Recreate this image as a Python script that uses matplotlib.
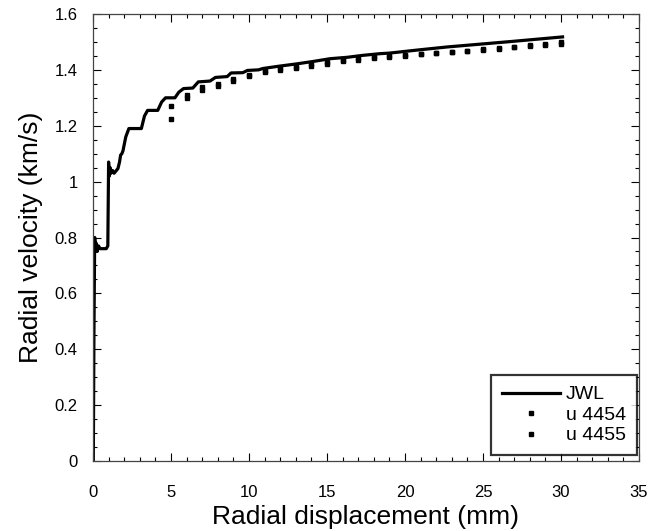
import numpy as np
import matplotlib
matplotlib.use("Agg")
import matplotlib.pyplot as plt
from matplotlib.ticker import MultipleLocator, FormatStrFormatter

plt.rcParams['font.family'] = ['Liberation Sans', 'DejaVu Sans']

# --- JWL simulation curve ---
jwl_x = [0.02, 0.06, 0.10, 0.11, 0.15, 0.20, 0.27, 0.35, 0.45, 0.85, 0.95,
         1.00, 1.05, 1.10, 1.15, 1.25, 1.35, 1.50, 1.60, 1.70, 1.77, 1.85,
         1.92, 2.10, 2.30, 3.10, 3.30, 3.50, 4.15, 4.40, 4.65, 5.25, 5.50,
         5.80, 6.40, 6.75, 7.50, 7.85, 8.60, 8.85, 9.60, 9.90, 10.6, 10.9,
         11.9, 13.0, 14.1, 15.2, 16.3, 17.3, 18.4, 19.0, 20.8, 22.7, 24.8,
         26.9, 28.5, 30.1]
jwl_y = [0.00, 0.45, 0.74, 0.80, 0.76, 0.78, 0.75, 0.77, 0.76, 0.76, 0.77,
         1.07, 1.02, 1.05, 1.03, 1.04, 1.03, 1.04, 1.047, 1.07, 1.095, 1.10,
         1.11, 1.16, 1.19, 1.19, 1.235, 1.255, 1.255, 1.285, 1.30, 1.30, 1.32,
         1.333, 1.335, 1.357, 1.36, 1.373, 1.376, 1.389, 1.39, 1.398, 1.40, 1.405,
         1.413, 1.421, 1.43, 1.44, 1.445, 1.452, 1.458, 1.460, 1.471, 1.482, 1.492,
         1.502, 1.510, 1.518]

# --- measured points ---
meas_x = [5, 6, 7, 8, 9, 10, 11, 12, 13, 14, 15, 16, 17, 18, 19, 20, 21, 22,
          23, 24, 25, 26, 27, 28, 29, 30]
u4454 = [1.272, 1.310, 1.338, 1.350, 1.366, 1.382, 1.397, 1.405, 1.412, 1.420,
         1.427, 1.434, 1.441, 1.447, 1.450, 1.454, 1.458, 1.461, 1.465, 1.469,
         1.474, 1.477, 1.483, 1.488, 1.491, 1.498]
u4455 = [1.224, 1.300, 1.328, 1.344, 1.360, 1.377, 1.392, 1.400, 1.407, 1.415,
         1.421, 1.431, 1.437, 1.444, 1.446, 1.451, 1.457, 1.459, 1.463, 1.466,
         1.472, 1.475, 1.481, 1.486, 1.489, 1.494]

fig = plt.figure(figsize=(6.51, 5.31), dpi=100)
ax = fig.add_axes([93/651, 70/531, 546/651, 447/531])

ax.plot(jwl_x, jwl_y, color='black', lw=2.3, label='JWL', solid_joinstyle='round')
ax.plot(meas_x, u4454, ls='none', marker='s', ms=2.6, color='black', label='u 4454')
ax.plot(meas_x, u4455, ls='none', marker='s', ms=2.6, color='black', label='u 4455')

ax.set_xlim(0, 35)
ax.set_ylim(0, 1.6)
ax.xaxis.set_major_locator(MultipleLocator(5))
ax.xaxis.set_minor_locator(MultipleLocator(1))
ax.yaxis.set_major_locator(MultipleLocator(0.2))
ax.yaxis.set_minor_locator(MultipleLocator(0.05))
ax.yaxis.set_major_formatter(FormatStrFormatter('%g'))
ax.tick_params(which='both', direction='in', top=True, right=True, width=0.8,
               labelsize=12, colors='black')
ax.tick_params(which='major', length=6)
ax.tick_params(axis='x', which='major', pad=17)
ax.tick_params(axis='y', which='major', pad=11)
ax.tick_params(which='minor', length=3)
for sp in ax.spines.values():
    sp.set_linewidth(0.9)
    sp.set_color('#444444')

ax.set_xlabel('Radial displacement (mm)', fontsize=19, labelpad=4)
ax.set_ylabel('Radial velocity (km/s)', fontsize=19, labelpad=8)

leg = ax.legend(loc='lower right', bbox_to_anchor=(0.996, 0.013), fontsize=14,
                frameon=True, fancybox=False, handlelength=3.0, handletextpad=0.3,
                labelspacing=0.15, borderpad=0.55, borderaxespad=0,
                markerscale=0.9)
leg.get_frame().set_edgecolor('black')
leg.get_frame().set_linewidth(1.6)

fig.savefig('out.png', dpi=100)
